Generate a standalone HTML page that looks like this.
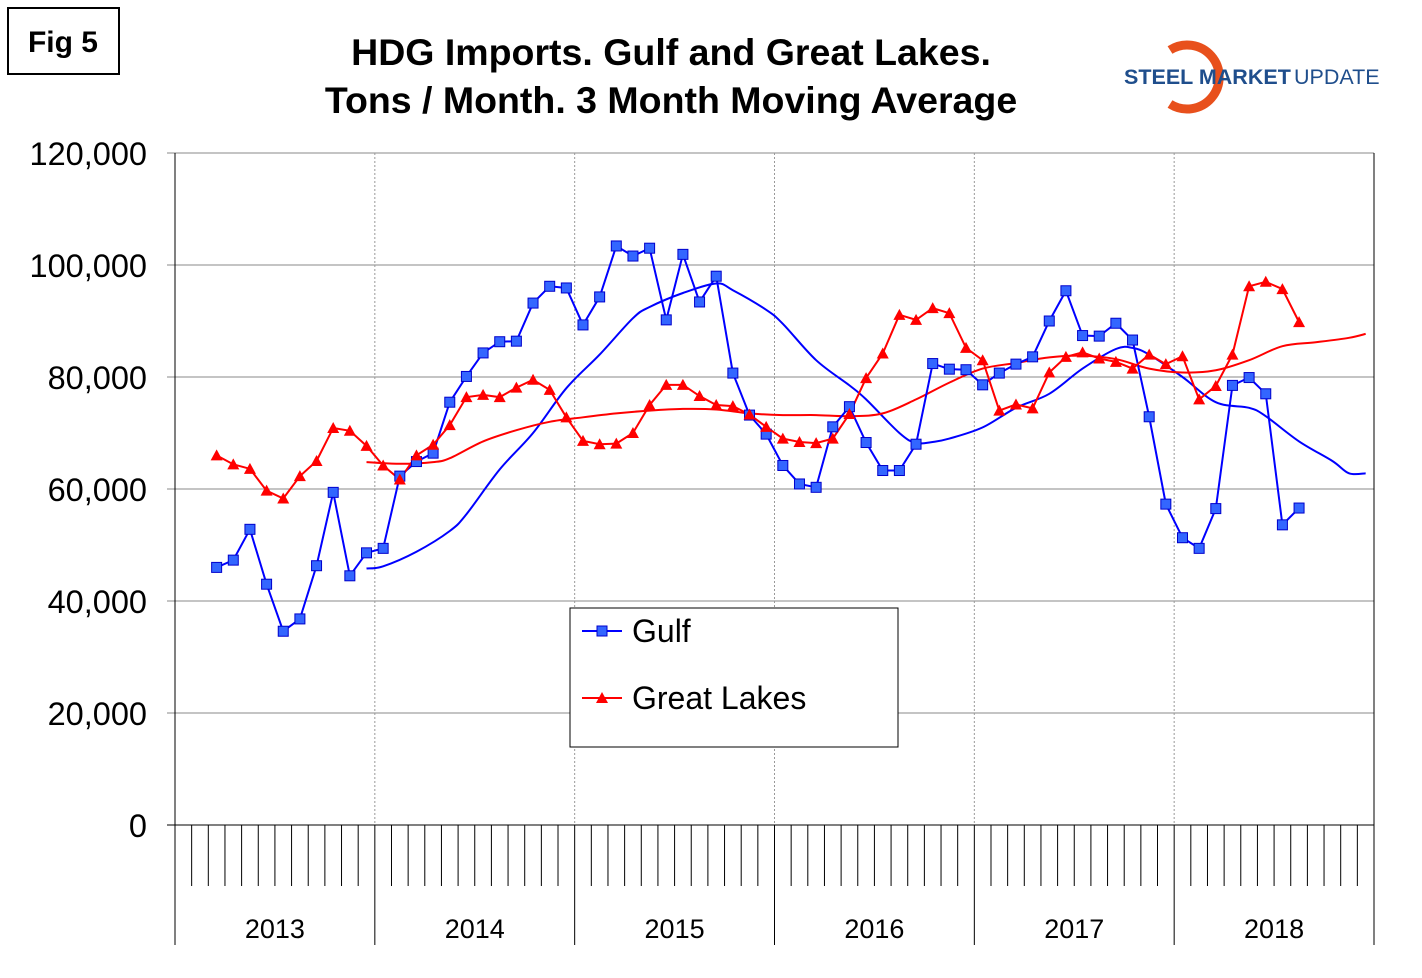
<!DOCTYPE html>
<html><head><meta charset="utf-8"><style>
body{margin:0;background:#fff;width:1422px;height:973px;overflow:hidden;font-family:"Liberation Sans",Arial,sans-serif}
</style></head><body>
<svg id="c" width="1422" height="973" xmlns="http://www.w3.org/2000/svg" font-family="Liberation Sans, Arial, sans-serif">
<rect x="8" y="8" width="111" height="66" fill="#fff" stroke="#000" stroke-width="2"/>
<text x="63" y="52" font-size="30" font-weight="bold" text-anchor="middle">Fig 5</text>
<text x="671" y="65" font-size="37.5" font-weight="bold" text-anchor="middle">HDG Imports. Gulf and Great Lakes.</text>
<text x="671" y="113" font-size="37.5" font-weight="bold" text-anchor="middle">Tons / Month. 3 Month Moving Average</text>
<g>
<path d="M1170 50 A32 32 0 1 1 1170 104" fill="none" stroke="#e8501c" stroke-width="9"/>
<text x="1124" y="84" font-size="21.5" font-weight="bold" fill="#1f4e8c">STEEL MARKET</text>
<text x="1294" y="84" font-size="21.5" fill="#1f4e8c">UPDATE</text>
</g>
<g id="grid"></g><g id="axes"></g><g id="series"></g>
<g>
<rect x="570" y="608" width="328" height="139" fill="#fff" stroke="#000" stroke-width="1"/>
<line x1="582" y1="631" x2="622" y2="631" stroke="#0000ff" stroke-width="2"/>
<rect x="597" y="626" width="10" height="10" fill="#3366ff" stroke="#0000cc"/>
<text x="632" y="642" font-size="32">Gulf</text>
<line x1="582" y1="698" x2="622" y2="698" stroke="#ff0000" stroke-width="2"/>
<polygon points="602,692 608,703 596,703" fill="#ff0000"/>
<text x="632" y="709" font-size="32">Great Lakes</text>
</g>
</svg>
<script>
const yTicks=[0,20000,40000,60000,80000,100000,120000];
const years=["2013","2014","2015","2016","2017","2018"];
const gulf=[46000,47300,52800,43000,34600,36800,46300,59400,44500,48600,49400,62300,64900,66400,75500,80100,84300,86300,86400,93200,96200,95900,89300,94300,103400,101600,103000,90200,101900,93400,98000,80700,73200,69800,64200,60900,60300,71100,74700,68300,63300,63300,68000,82400,81400,81300,78600,80700,82300,83600,90000,95400,87400,87300,89600,86600,72900,57300,51300,49400,56500,78500,79900,77000,53600,56600];
const lakes=[66000,64400,63600,59700,58300,62300,65000,70900,70400,67700,64200,61700,66000,67900,71400,76400,76800,76400,78100,79500,77700,72800,68600,68000,68100,70000,75000,78600,78600,76600,75000,74800,73300,71100,69000,68400,68200,69000,73400,79800,84200,91100,90200,92300,91400,85200,83000,74000,75100,74400,80800,83600,84400,83300,82700,81500,84000,82300,83700,76000,78400,84000,96200,97000,95700,89800];
const startMonth=2;
const gulfTrendM=[11,12,14,16,17,19,21,23,25,27,28,30,32,33,35,36,38,40,41,43,44,45,46,48,50,52,54,56,57,58,60,62,64,65,67,69,70,71];
const gulfTrendV=[45800,46200,48800,52500,55500,63500,70000,78000,84000,90500,92500,95000,96700,95500,92000,89500,83000,78500,76000,70000,68200,68400,69000,71000,74500,77000,81500,85000,85200,84000,80000,75500,74500,73000,68500,65000,62800,62800];
const lakesTrendM=[11,13,15,16,18,20,22,24,26,28,30,32,34,36,38,40,42,44,46,48,50,52,54,56,58,60,62,64,66,68,70,71];
const lakesTrendV=[64800,64500,64800,65500,68500,70500,72000,72800,73500,74000,74300,74200,73500,73200,73200,73000,73500,76000,79000,81500,82500,83500,83800,83200,81500,80800,81200,83000,85500,86200,87000,87700];
const X0=175,X1=1374,Y0=825,YT=153,MW=(X1-X0)/72;
const xm=i=>X0+(i+0.5)*MW;
const yv=v=>Y0-(v/120000)*(Y0-YT);
const NS="http://www.w3.org/2000/svg";
function mk(p,t,a){const e=document.createElementNS(NS,t);for(const k in a)e.setAttribute(k,a[k]);document.getElementById(p).appendChild(e);return e;}
yTicks.forEach(v=>{
 const l=mk('grid','line',{x1:X0-8,x2:X1,y1:yv(v),y2:yv(v),stroke:v===0?'#000':'#888','stroke-width':1});
 
 
 const t=mk('axes','text',{x:147,y:yv(v)+12,'font-size':32.5,'text-anchor':'end'});t.textContent=v.toLocaleString('en-US');
 
 
});
mk('axes','line',{x1:X0,x2:X0,y1:YT,y2:945,stroke:'#000'});
mk('axes','line',{x1:X1,x2:X1,y1:YT,y2:945,stroke:'#000'});
for(let i=1;i<72;i++){if(i%12)mk('axes','line',{x1:X0+i*MW,x2:X0+i*MW,y1:Y0,y2:886,stroke:'#000'});}
years.forEach((y,k)=>{
 const xb=X0+k*12*MW;
 if(k>0){mk('grid','line',{x1:xb,x2:xb,y1:YT,y2:Y0,stroke:'#999','stroke-dasharray':'2,2'});mk('axes','line',{x1:xb,x2:xb,y1:Y0,y2:945,stroke:'#000'});}
 const t=mk('axes','text',{x:xb+6*MW,y:938,'font-size':27,'text-anchor':'middle'});t.textContent=y;
 
 
});
function smooth(pts){let d=`M${pts[0][0]},${pts[0][1]}`;for(let i=0;i<pts.length-1;i++){const p0=pts[i-1]||pts[i],p1=pts[i],p2=pts[i+1],p3=pts[i+2]||p2;
 d+=` C${p1[0]+(p2[0]-p0[0])/6},${p1[1]+(p2[1]-p0[1])/6} ${p2[0]-(p3[0]-p1[0])/6},${p2[1]-(p3[1]-p1[1])/6} ${p2[0]},${p2[1]}`;}return d;}
const gt=mk('series','path',{d:smooth(gulfTrendM.map((m,i)=>[xm(m),yv(gulfTrendV[i])])),fill:'none',stroke:'#0000ff','stroke-width':2});


const lt=mk('series','path',{d:smooth(lakesTrendM.map((m,i)=>[xm(m),yv(lakesTrendV[i])])),fill:'none',stroke:'#ff0000','stroke-width':2});


const gl=mk('series','polyline',{points:gulf.map((v,i)=>xm(i+startMonth)+','+yv(v)).join(' '),fill:'none',stroke:'#0000ff','stroke-width':2});


const ll=mk('series','polyline',{points:lakes.map((v,i)=>xm(i+startMonth)+','+yv(v)).join(' '),fill:'none',stroke:'#ff0000','stroke-width':2});


gulf.forEach((v,i)=>{const x=xm(i+startMonth),y=yv(v);
 const r=mk('series','rect',{x:x-5,y:y-5,width:10,height:10,fill:'#3366ff',stroke:'#0000cc'});
 
 });
lakes.forEach((v,i)=>{const x=xm(i+startMonth),y=yv(v);
 const p=mk('series','polygon',{points:`${x},${y-6} ${x+6},${y+5} ${x-6},${y+5}`,fill:'#ff0000'});
 
 });
</script>
</body></html>
